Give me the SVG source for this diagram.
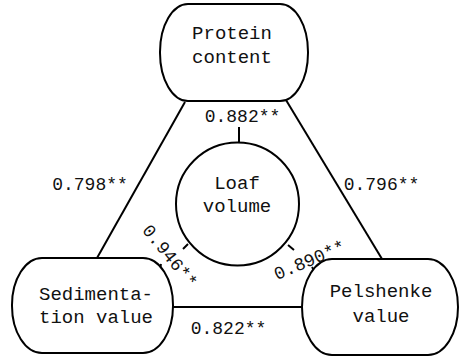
<svg xmlns="http://www.w3.org/2000/svg" width="459" height="358" viewBox="0 0 459 358">
<style>
.n{fill:#fff;stroke:#000;stroke-width:2}
.t{font-family:"Liberation Mono","DejaVu Sans Mono",monospace;font-size:19px;fill:#111;text-anchor:middle}
.l{font-family:"Liberation Mono","DejaVu Sans Mono",monospace;font-size:18px;fill:#111;text-anchor:middle}
.c line{stroke:#000;stroke-width:2;fill:none}
</style>
<rect width="459" height="358" fill="#fff"/>
<g id="connectors" class="c">
<line x1="185" y1="102" x2="97" y2="258"/>
<line x1="286" y1="100" x2="382" y2="259"/>
<line x1="173" y1="307" x2="302" y2="307"/>
<line x1="239" y1="127" x2="239" y2="142"/>
<line x1="188" y1="244" x2="183" y2="249"/>
<line x1="288" y1="245" x2="294" y2="250"/>
<line x1="160" y1="269" x2="161" y2="264"/>
<line x1="315" y1="272" x2="312" y2="267"/>
</g>
<g id="protein">
<rect class="n" x="160" y="4" width="148" height="97" rx="28" ry="48"/>
<text class="t" x="232" y="39">Protein</text>
<text class="t" x="232" y="63">content</text>
</g>
<g id="loaf">
<circle class="n" cx="237.5" cy="204" r="61.5"/>
<text class="t" x="237" y="189">Loaf</text>
<text class="t" x="237" y="212">volume</text>
</g>
<g id="sedimentation">
<rect class="n" x="12" y="258" width="161" height="95" rx="30" ry="47"/>
<text class="t" x="96" y="300">Sedimenta-</text>
<text class="t" x="96" y="323">tion value</text>
</g>
<g id="pelshenke">
<rect class="n" x="302" y="259" width="156" height="96" rx="30" ry="48"/>
<text class="t" x="381" y="297">Pelshenke</text>
<text class="t" x="381" y="322">value</text>
</g>
<g id="labels">
<text class="l" x="90" y="190">0.798**</text>
<text class="l" x="381.5" y="190">0.796**</text>
<text class="l" x="242.5" y="122">0.882**</text>
<text class="l" x="228.5" y="334">0.822**</text>
<text class="l" transform="translate(170,256) rotate(51)" x="0" y="6">0.946**</text>
<text class="l" transform="translate(309.5,260) rotate(-23)" x="0" y="6">0.890**</text>
</g>
</svg>
